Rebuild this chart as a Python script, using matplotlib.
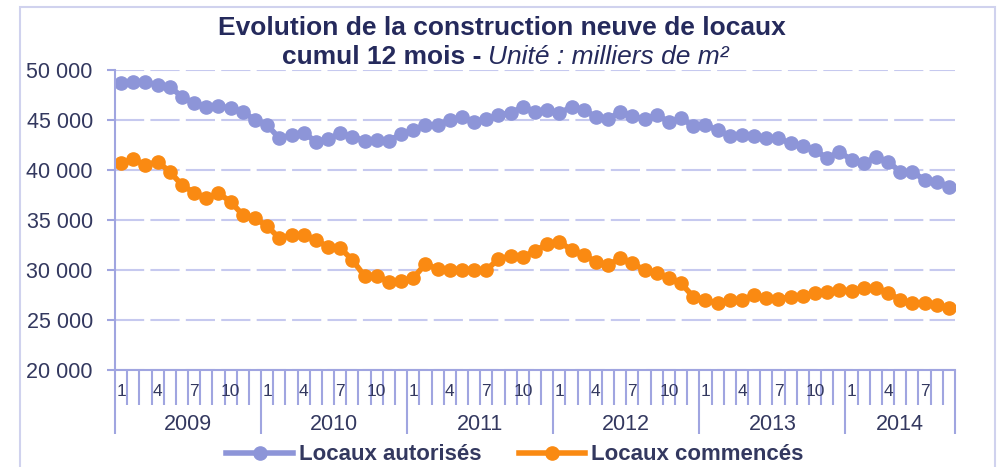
import numpy as np
import matplotlib
matplotlib.use('Agg')
import matplotlib.pyplot as plt
from matplotlib.patches import Rectangle
from matplotlib.transforms import blended_transform_factory

plt.rcParams['font.family'] = ['Liberation Sans', 'DejaVu Sans']

# monthly data, cumul 12 mois, milliers de m2 (Jan 2009 -> Sep 2014)
years = ['2009', '2010', '2011', '2012', '2013', '2014']
months_per_year = [12, 12, 12, 12, 12, 9]
month_labels = ['1', '4', '7', '10']

autorises = [48730, 48770, 48830, 48500, 48330, 47330, 46670, 46330, 46400, 46170, 45830, 45000,
             44500, 43170, 43500, 43730, 42830, 43100, 43670, 43330, 42930, 43000, 42930, 43600,
             44000, 44500, 44500, 45000, 45270, 44830, 45070, 45500, 45730, 46270, 45830, 46000,
             45670, 46330, 46000, 45330, 45070, 45830, 45400, 45070, 45500, 44830, 45170, 44400,
             44500, 44000, 43400, 43500, 43450, 43170, 43170, 42670, 42400, 42000, 41170, 41830,
             41000, 40670, 41270, 40830, 39830, 39830, 39000, 38830, 38330]

commences = [40670, 41070, 40500, 40830, 39830, 38500, 37730, 37170, 37670, 36830, 35500, 35170,
             34400, 33170, 33500, 33500, 33000, 32300, 32200, 31000, 29400, 29400, 28850, 28900,
             29200, 30600, 30100, 30050, 30050, 30050, 30000, 31100, 31400, 31300, 31900, 32600,
             32830, 32000, 31500, 30830, 30500, 31170, 30670, 30000, 29670, 29170, 28670, 27330,
             27000, 26670, 27000, 27000, 27500, 27170, 27070, 27330, 27400, 27730, 27830, 28000,
             27930, 28170, 28170, 27730, 27000, 26670, 26670, 26500, 26170]

yticks = [20000, 25000, 30000, 35000, 40000, 45000, 50000]

blue = '#8d95d8'
orange = '#fa8a12'
grid_col = '#c6c9ef'
axis_col = '#a0a5e0'
text_col = '#33385f'
title_col = '#252a5c'

W, H = 998, 467
fig = plt.figure(figsize=(W / 100, H / 100), dpi=100)

# outer frame of the chart
fig.patches.append(Rectangle((20 / W, -0.05), 975 / W, 1.05 - 7 / H, transform=fig.transFigure,
                             fill=False, edgecolor='#d0d2ee', linewidth=1.5))

ax = fig.add_axes([115 / W, 1 - 370 / H, (955 - 115) / W, 300 / H])

n = len(autorises)
x = np.arange(n) + 0.5
l1, = ax.plot(x, autorises, '-o', color=blue, lw=4, ms=9.5, mec=blue, label='Locaux autorisés')
l2, = ax.plot(x, commences, '-o', color=orange, lw=4, ms=9.5, mec=orange, label='Locaux commencés')

ax.set_xlim(0, n)
ax.set_ylim(20000, 50000)
ax.set_yticks(yticks)
ax.set_yticklabels([f'{v:,}'.replace(',', ' ') for v in yticks])
ax.yaxis.grid(True, linestyle=(0, (14, 3)), color=grid_col, linewidth=1.5)
ax.set_axisbelow(True)

for s in ['top', 'right']:
    ax.spines[s].set_visible(False)
for s in ['left', 'bottom']:
    ax.spines[s].set_color(axis_col)
    ax.spines[s].set_linewidth(1.5)

ax.tick_params(axis='y', colors=axis_col, length=6, width=1.5, pad=10,
               labelcolor=text_col, labelsize=15.5)

# year boundaries long ticks, month boundaries short ticks
bounds = np.cumsum([0] + months_per_year)
ax.set_xticks(bounds)
ax.set_xticks([m for m in range(n + 1) if m not in bounds], minor=True)
ax.set_xticklabels([])
ax.tick_params(axis='x', which='major', length=46, width=1.5, color=axis_col)
ax.tick_params(axis='x', which='minor', length=25, width=1.5, color=axis_col)

trans = blended_transform_factory(ax.transData, ax.transAxes)
for start, count, yr in zip(bounds[:-1], months_per_year, years):
    for k, lab in enumerate(month_labels):
        m = k * 3
        if m < count:
            ax.text(start + m + 0.5, -0.073, lab, transform=trans, ha='center', va='center',
                    fontsize=12.5, color=text_col)
    ax.text(start + count / 2, -0.183, yr, transform=trans, ha='center', va='center',
            fontsize=15.5, color=text_col)

# title
fig.text(502 / W, 1 - 28 / H, 'Evolution de la construction neuve de locaux', ha='center',
         va='center', fontsize=19, fontweight='bold', color=title_col)
fig.text(481 / W, 1 - 57 / H, 'cumul 12 mois -', ha='right', va='center', fontsize=19,
         fontweight='bold', color=title_col)
fig.text(488 / W, 1 - 57 / H, 'Unité : milliers de m²', ha='left', va='center', fontsize=19,
         style='italic', color=title_col)

leg = fig.legend(handles=[l1, l2], loc='center', bbox_to_anchor=(515 / W, 1 - 455 / H), ncol=2,
                 frameon=False, numpoints=1, handlelength=3.0, handletextpad=0.27,
                 columnspacing=1.67, prop={'size': 16, 'weight': 'bold'})
for t in leg.get_texts():
    t.set_color(text_col)

fig.savefig('out.png', dpi=100)
